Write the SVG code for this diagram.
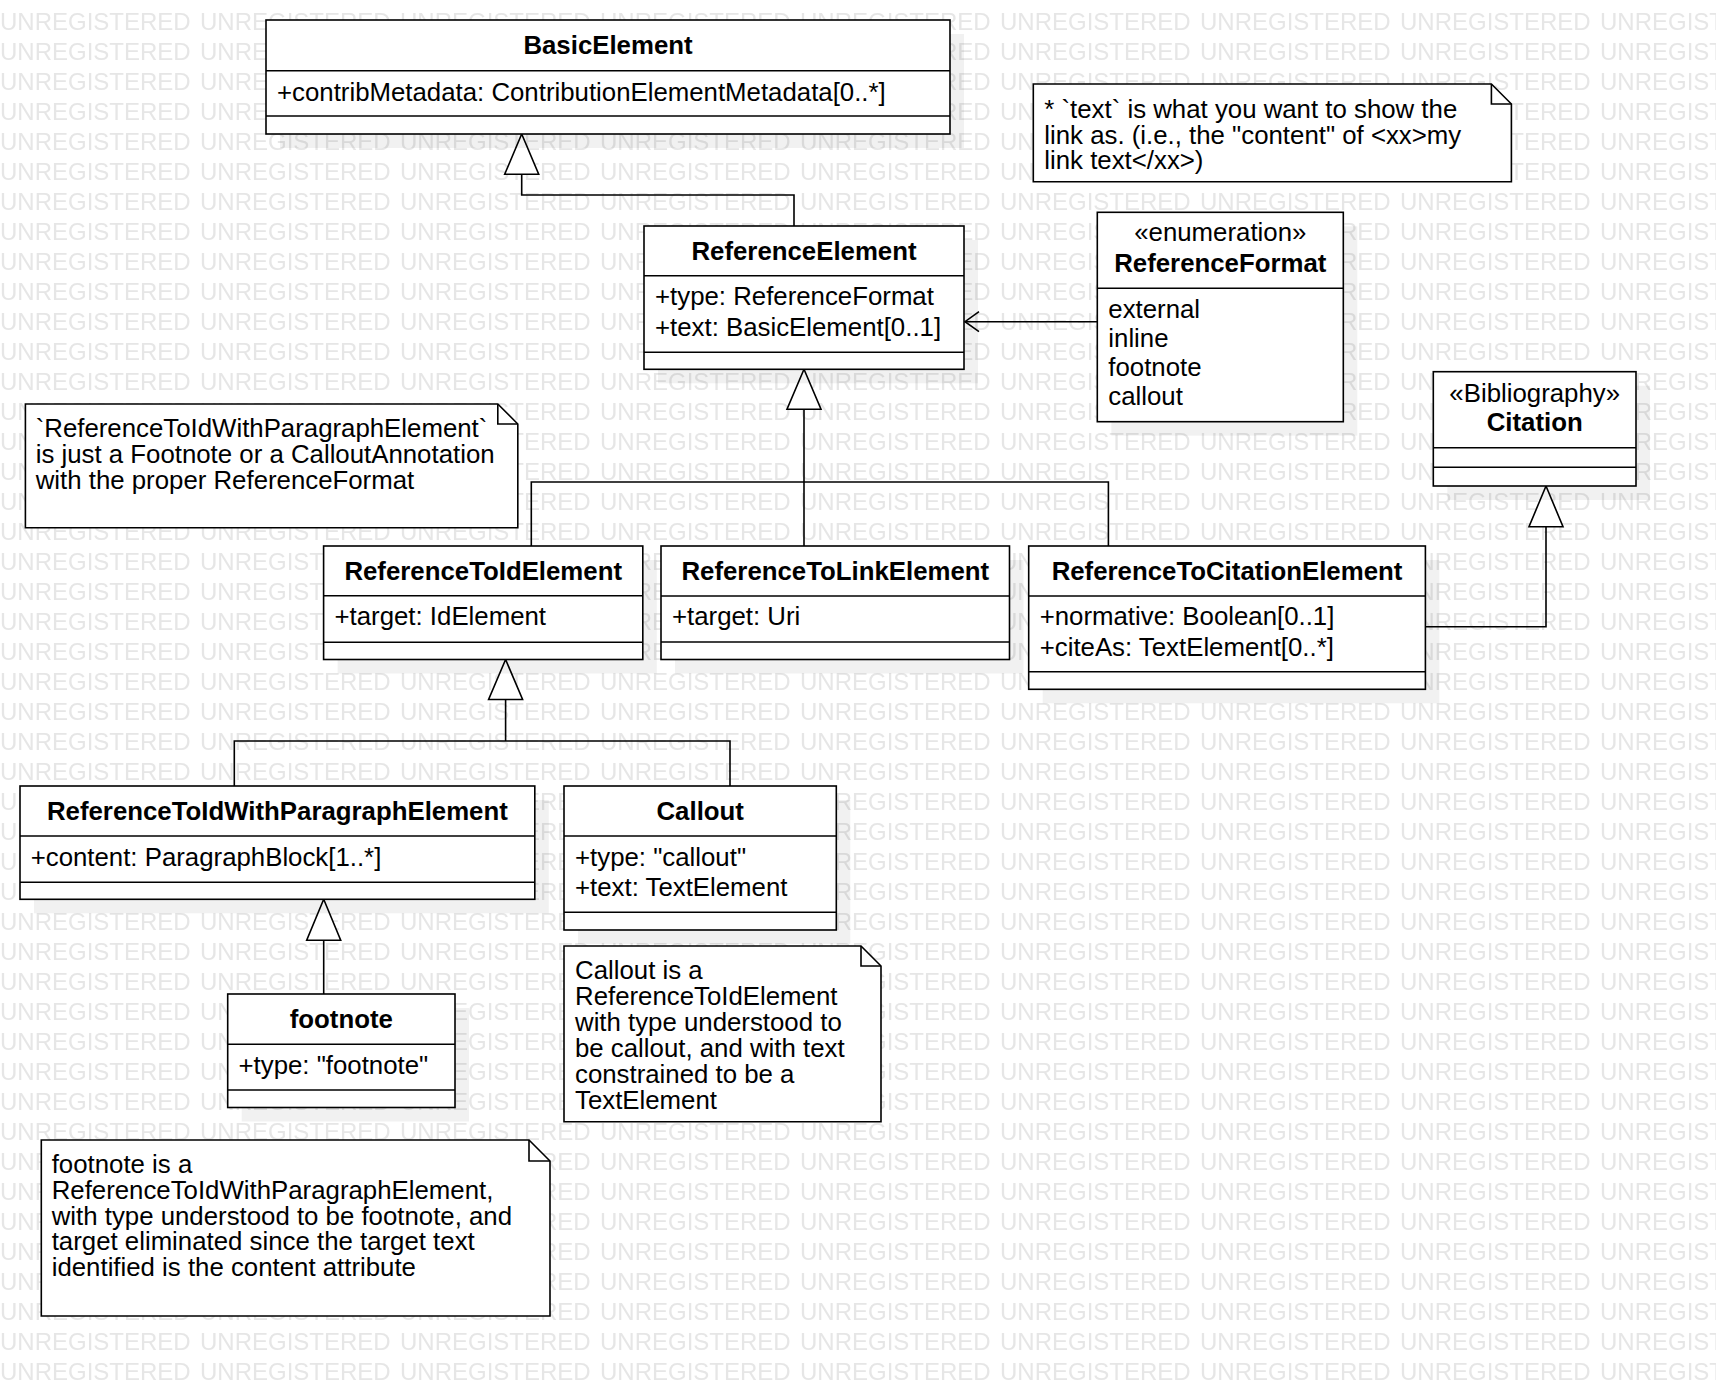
<svg xmlns="http://www.w3.org/2000/svg" width="1716" height="1398" viewBox="0 0 1716 1398">
<style>
.t{font-family:"Liberation Sans",Arial,Helvetica,sans-serif;font-size:25.8px;fill:#000}
.b{font-weight:bold}
.c{text-anchor:middle}
.wm{font-family:"Liberation Sans",Arial,Helvetica,sans-serif;font-size:24px;fill:#e6e6e6}
.box{fill:#fff;stroke:#000;stroke-width:1.6}
.ln{stroke:#000;stroke-width:1.6;fill:none}
.sh{fill:#000;fill-opacity:0.055}
.tri{fill:#fff;stroke:#000;stroke-width:1.6;stroke-linejoin:miter}
.note{fill:#fff;stroke:#000;stroke-width:1.6;stroke-linejoin:miter}
</style>
<defs>
<pattern id="wm" patternUnits="userSpaceOnUse" x="0" y="10" width="200" height="30">
<text class="wm" x="0" y="20.4">UNREGISTERED</text>
</pattern>
</defs>
<rect x="0" y="0" width="1716" height="1398" fill="#fff"/>
<rect id="watermark" x="0" y="0" width="1716" height="1386" fill="url(#wm)"/>

<g id="connectors">
<path class="ln" d="M794,226 V195 H521.7 V174.3"/>
<polygon class="tri" points="521.7,134 504.7,174.3 538.7,174.3"/>
<path class="ln" d="M804,409.3 V546"/>
<path class="ln" d="M531.3,546 V482 H1108.4 V546"/>
<polygon class="tri" points="804,369.3 787,409.3 821,409.3"/>
<path class="ln" d="M505.6,699.5 V741"/>
<path class="ln" d="M234.3,786 V741 H730 V786"/>
<polygon class="tri" points="505.6,659.5 488.6,699.5 522.6,699.5"/>
<path class="ln" d="M323.7,940.3 V994"/>
<polygon class="tri" points="323.7,899.3 306.7,940.3 340.7,940.3"/>
<path class="ln" d="M1425.4,626.7 H1546 V526.7"/>
<polygon class="tri" points="1546,486 1529,526.7 1563,526.7"/>
<path class="ln" d="M1097.3,321.7 H965"/>
<path class="ln" d="M979,311.7 L965,321.7 L979,331.7"/>
</g>

<g id="BasicElement">
<rect class="sh" x="280" y="34" width="684" height="114"/>
<rect class="box" x="266" y="20" width="684" height="114"/>
<line class="ln" x1="266" y1="70.7" x2="950" y2="70.7"/>
<line class="ln" x1="266" y1="116" x2="950" y2="116"/>
<text class="t b c" x="608" y="54">BasicElement</text>
<text class="t" x="277" y="100.5">+contribMetadata: ContributionElementMetadata[0..*]</text>
</g>

<g id="ReferenceElement">
<rect class="sh" x="658" y="240" width="320" height="143.3"/>
<rect class="box" x="644" y="226" width="320" height="143.3"/>
<line class="ln" x1="644" y1="275.7" x2="964" y2="275.7"/>
<line class="ln" x1="644" y1="352.3" x2="964" y2="352.3"/>
<text class="t b c" x="804" y="260">ReferenceElement</text>
<text class="t" x="655" y="305.3">+type: ReferenceFormat</text>
<text class="t" x="655" y="336">+text: BasicElement[0..1]</text>
</g>

<g id="ReferenceFormat">
<rect class="sh" x="1111.3" y="226.3" width="246" height="209.4"/>
<rect class="box" x="1097.3" y="212.3" width="246" height="209.4"/>
<line class="ln" x1="1097.3" y1="288.3" x2="1343.3" y2="288.3"/>
<text class="t c" x="1220.3" y="240.7">«enumeration»</text>
<text class="t b c" x="1220.3" y="271.7">ReferenceFormat</text>
<text class="t" x="1108.3" y="317.7">external</text>
<text class="t" x="1108.3" y="346.9">inline</text>
<text class="t" x="1108.3" y="376.1">footnote</text>
<text class="t" x="1108.3" y="405.3">callout</text>
</g>

<g id="Citation">
<rect class="sh" x="1447.3" y="385.7" width="202.7" height="114.3"/>
<rect class="box" x="1433.3" y="371.7" width="202.7" height="114.3"/>
<line class="ln" x1="1433.3" y1="447.7" x2="1636" y2="447.7"/>
<line class="ln" x1="1433.3" y1="467.3" x2="1636" y2="467.3"/>
<text class="t c" x="1534.7" y="401.7">«Bibliography»</text>
<text class="t b c" x="1534.7" y="431">Citation</text>
</g>

<g id="ReferenceToIdElement">
<rect class="sh" x="337.6" y="560" width="319.2" height="113.5"/>
<rect class="box" x="323.6" y="546" width="319.2" height="113.5"/>
<line class="ln" x1="323.6" y1="595.7" x2="642.8" y2="595.7"/>
<line class="ln" x1="323.6" y1="642.3" x2="642.8" y2="642.3"/>
<text class="t b c" x="483.2" y="580">ReferenceToIdElement</text>
<text class="t" x="334.5" y="625.3">+target: IdElement</text>
</g>

<g id="ReferenceToLinkElement">
<rect class="sh" x="675" y="560" width="348.5" height="113.5"/>
<rect class="box" x="661" y="546" width="348.5" height="113.5"/>
<line class="ln" x1="661" y1="596" x2="1009.5" y2="596"/>
<line class="ln" x1="661" y1="642" x2="1009.5" y2="642"/>
<text class="t b c" x="835.3" y="580">ReferenceToLinkElement</text>
<text class="t" x="672" y="625.3">+target: Uri</text>
</g>

<g id="ReferenceToCitationElement">
<rect class="sh" x="1042.7" y="560" width="396.7" height="143.3"/>
<rect class="box" x="1028.7" y="546" width="396.7" height="143.3"/>
<line class="ln" x1="1028.7" y1="596" x2="1425.4" y2="596"/>
<line class="ln" x1="1028.7" y1="671.7" x2="1425.4" y2="671.7"/>
<text class="t b c" x="1227" y="580">ReferenceToCitationElement</text>
<text class="t" x="1039.7" y="625.3">+normative: Boolean[0..1]</text>
<text class="t" x="1039.7" y="655.8">+citeAs: TextElement[0..*]</text>
</g>

<g id="ReferenceToIdWithParagraphElement">
<rect class="sh" x="34" y="800" width="514.8" height="113.3"/>
<rect class="box" x="20" y="786" width="514.8" height="113.3"/>
<line class="ln" x1="20" y1="836" x2="534.8" y2="836"/>
<line class="ln" x1="20" y1="882.3" x2="534.8" y2="882.3"/>
<text class="t b c" x="277.4" y="820">ReferenceToIdWithParagraphElement</text>
<text class="t" x="30.7" y="865.5">+content: ParagraphBlock[1..*]</text>
</g>

<g id="Callout">
<rect class="sh" x="578" y="800" width="272.3" height="144"/>
<rect class="box" x="564" y="786" width="272.3" height="144"/>
<line class="ln" x1="564" y1="836" x2="836.3" y2="836"/>
<line class="ln" x1="564" y1="912.3" x2="836.3" y2="912.3"/>
<text class="t b c" x="700.2" y="820">Callout</text>
<text class="t" x="575" y="865.5">+type: "callout"</text>
<text class="t" x="575" y="896">+text: TextElement</text>
</g>

<g id="footnote">
<rect class="sh" x="241.7" y="1008" width="227.3" height="113.5"/>
<rect class="box" x="227.7" y="994" width="227.3" height="113.5"/>
<line class="ln" x1="227.7" y1="1044.3" x2="455" y2="1044.3"/>
<line class="ln" x1="227.7" y1="1090" x2="455" y2="1090"/>
<text class="t b c" x="341.3" y="1028">footnote</text>
<text class="t" x="238.5" y="1074">+type: "footnote"</text>
</g>

<g id="note-text">
<path class="note" d="M1033.3,84 H1491.4 L1511.4,104 V181.7 H1033.3 Z"/>
<path class="ln" d="M1491.4,84 V104 H1511.4"/>
<text class="t"><tspan x="1044.3" y="118.3">* `text` is what you want to show the</tspan><tspan x="1044.3" y="143.5">link as. (i.e., the "content" of &lt;xx&gt;my</tspan><tspan x="1044.3" y="168.7">link text&lt;/xx&gt;)</tspan></text>
</g>

<g id="note-paragraph">
<path class="note" d="M25.4,404 H497.8 L517.8,424 V527.7 H25.4 Z"/>
<path class="ln" d="M497.8,404 V424 H517.8"/>
<text class="t"><tspan x="35.7" y="437">`ReferenceToIdWithParagraphElement`</tspan><tspan x="35.7" y="463">is just a Footnote or a CalloutAnnotation</tspan><tspan x="35.7" y="489">with the proper ReferenceFormat</tspan></text>
</g>

<g id="note-callout">
<path class="note" d="M564,946 H861 L881,966 V1121.7 H564 Z"/>
<path class="ln" d="M861,946 V966 H881"/>
<text class="t"><tspan x="575" y="979">Callout is a</tspan><tspan x="575" y="1004.9">ReferenceToIdElement</tspan><tspan x="575" y="1030.8">with type understood to</tspan><tspan x="575" y="1056.7">be callout, and with text</tspan><tspan x="575" y="1082.6">constrained to be a</tspan><tspan x="575" y="1108.5">TextElement</tspan></text>
</g>

<g id="note-footnote">
<path class="note" d="M41.3,1140 H529 L550,1161 V1316 H41.3 Z"/>
<path class="ln" d="M529,1140 V1161 H550"/>
<text class="t"><tspan x="51.7" y="1173.3">footnote is a</tspan><tspan x="51.7" y="1199">ReferenceToIdWithParagraphElement,</tspan><tspan x="51.7" y="1224.7">with type understood to be footnote, and</tspan><tspan x="51.7" y="1250.4">target eliminated since the target text</tspan><tspan x="51.7" y="1276.1">identified is the content attribute</tspan></text>
</g>
</svg>
